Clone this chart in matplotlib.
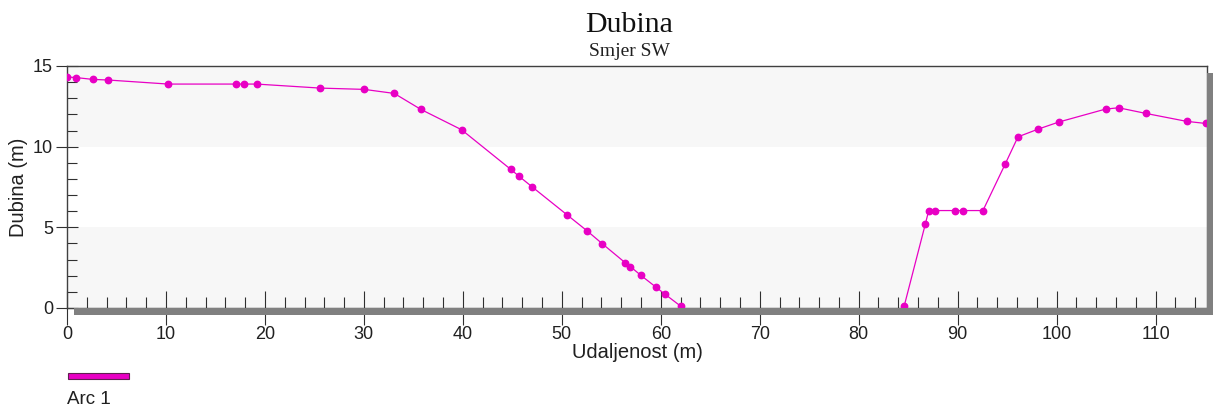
import numpy as np
import matplotlib
matplotlib.use("Agg")
import matplotlib.pyplot as plt
from matplotlib.patches import Rectangle
from matplotlib.ticker import MultipleLocator

# Data (distance in m, depth in m); NaN marks gap between the two arcs of the profile
distance = [0.0, 0.95, 2.6, 4.18, 10.24, 17.1, 17.9, 19.16, 25.6, 30.04, 33.07,
            35.76, 39.87, 44.85, 45.63, 47.0, 50.5, 52.56, 54.08, 56.4, 56.94,
            57.98, 59.5, 60.44, 62.0,
            np.nan,
            84.6, 86.74, 87.08, 87.68, 89.7, 90.57, 92.56, 94.82, 96.1, 98.15,
            100.24, 104.95, 106.27, 109.03, 113.13, 115.05]
depth = [14.32, 14.28, 14.17, 14.13, 13.88, 13.88, 13.88, 13.88, 13.63, 13.55, 13.30,
         12.31, 11.05, 8.59, 8.19, 7.51, 5.79, 4.78, 3.99, 2.81, 2.56,
         2.03, 1.30, 0.85, 0.12,
         np.nan,
         0.12, 5.21, 6.04, 6.04, 6.04, 6.04, 6.04, 8.94, 10.61, 11.09,
         11.53, 12.33, 12.41, 12.06, 11.57, 11.44]

x_ticks = [0, 10, 20, 30, 40, 50, 60, 70, 80, 90, 100, 110]
y_ticks = [0, 5, 10, 15]
band_edges = [(0, 5), (10, 15)]
series_name = "Arc 1"
title = "Dubina"
subtitle = "Smjer SW"
xlabel = "Udaljenost (m)"
ylabel = "Dubina (m)"

W, H = 1214, 412
color = "#e800c4"
sans = ["Liberation Sans", "DejaVu Sans"]
serif = ["Liberation Serif", "DejaVu Serif"]

fig = plt.figure(figsize=(W / 100, H / 100), dpi=100)
fig.patch.set_facecolor("white")

ax_l, ax_r, ax_t, ax_b = 67, 1207, 66, 308
ax = fig.add_axes([ax_l / W, 1 - ax_b / H, (ax_r - ax_l) / W, (ax_b - ax_t) / H])

# drop shadow
shadow = "#808080"
fig.patches.append(Rectangle(((ax_l + 7) / W, 1 - (ax_b + 7) / H), (ax_r + 6 - ax_l - 7) / W, 7 / H,
                             transform=fig.transFigure, facecolor=shadow, edgecolor="none", zorder=0))
fig.patches.append(Rectangle((ax_r / W, 1 - (ax_b + 7) / H), 6 / W, (ax_b + 7 - ax_t - 7) / H,
                             transform=fig.transFigure, facecolor=shadow, edgecolor="none", zorder=0))

ax.set_facecolor("white")
for lo, hi in band_edges:
    ax.axhspan(lo, hi, color="#f7f7f7", zorder=0, lw=0)

ax.plot(distance, depth, color=color, lw=0.9, marker="o", markersize=4.6,
        markerfacecolor=color, markeredgecolor=color, zorder=3)

ax.set_xlim(0, 115.2)
ax.set_ylim(0, 15)
ax.set_xticks(x_ticks)
ax.set_yticks(y_ticks)
ax.xaxis.set_minor_locator(MultipleLocator(2))
ax.yaxis.set_minor_locator(MultipleLocator(1))

for s in ax.spines.values():
    s.set_color("#404040")
    s.set_linewidth(1.0)

ax.tick_params(axis="x", which="major", direction="inout", length=24, width=0.8,
               color="#303030", labelsize=13, pad=1)
ax.tick_params(axis="x", which="minor", direction="in", length=8, width=0.8, color="#303030")
ax.tick_params(axis="y", which="major", direction="inout", length=16, width=0.8,
               color="#303030", labelsize=13, pad=2)
ax.tick_params(axis="y", which="minor", direction="in", length=7, width=0.8, color="#303030")
for lab in ax.get_xticklabels() + ax.get_yticklabels():
    lab.set_fontfamily(sans)
    lab.set_color("#202020")

# titles and labels
fig.text(629 / W, 1 - 31.5 / H, title, ha="center", va="baseline", fontsize=21.5,
         family=serif, color="#101010")
fig.text(629 / W, 1 - 56 / H, subtitle, ha="center", va="baseline", fontsize=14,
         family=serif, color="#202020")
fig.text(637 / W, 1 - 353 / H, xlabel, ha="center", va="center", fontsize=14.5,
         family=sans, color="#202020")
fig.text(19 / W, 1 - 187 / H, ylabel, ha="center", va="center", fontsize=14.5,
         family=sans, color="#202020", rotation=90)

# legend
fig.patches.append(Rectangle((67.5 / W, 1 - 379 / H), 61 / W, 6 / H, transform=fig.transFigure,
                             facecolor=color, edgecolor="#602050", lw=0.8))
fig.text(67 / W, 1 - 399 / H, series_name, ha="left", va="center", fontsize=13.5,
         family=sans, color="#202020")

fig.savefig("out.png", dpi=100)
